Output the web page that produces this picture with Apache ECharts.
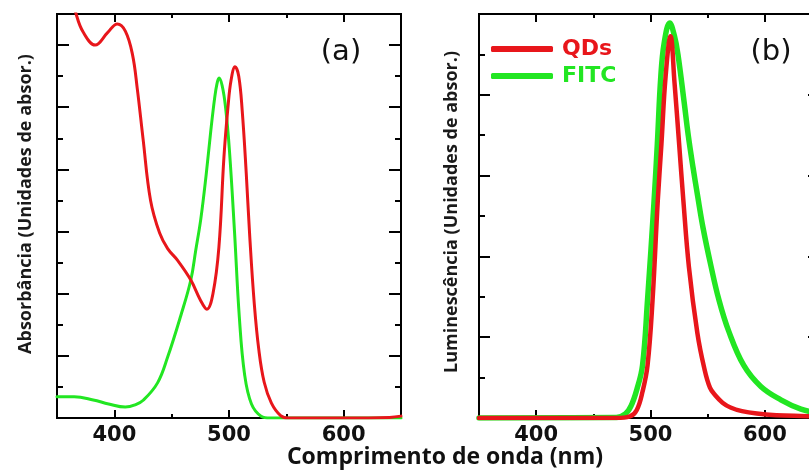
<!DOCTYPE html>
<html>
<head>
<meta charset="utf-8">
<script src="https://cdn.jsdelivr.net/npm/echarts@6/dist/echarts.min.js"></script>
<style>
  html, body { margin: 0; padding: 0; background: #fff; }
  #chart { width: 809px; height: 476px; }
</style>
</head>
<body>
<div id="chart"></div>
<script>
// Wavelength range shared by both panels (nm)
const X_MIN = 350, X_MAX = 650;
const xMajorTicks = [400, 500, 600];
const xMinorTicks = [450, 550];

// Panel (a): absorbance, arbitrary units
const Y_MAX_A = 13;
const yMajorTicksA = [0, 2, 4, 6, 8, 10, 12];
const yMinorTicksA = [1, 3, 5, 7, 9, 11];

// Panel (b): luminescence, arbitrary units
const Y_MAX_B = 10;
const yMajorTicksB = [0, 2, 4, 6, 8];
const yMinorTicksB = [1, 3, 5, 7, 9];

const seriesNames = ['QDs', 'FITC'];
const RED = '#e8161b', GREEN = '#22e622';

// (a) QDs absorbance
const absQDsX = [360, 366.7, 372.8, 383.3, 393.9, 402.6, 409.6, 415.8, 420, 425, 431.6, 439.5, 446.5, 455, 466.7, 475, 480.7, 486, 491.2, 495.6, 499.1, 501.8, 505.3, 508.5, 511.5, 515, 518, 522, 526, 530.7, 537, 545, 552, 600, 640, 650];
const absQDsY = [14.0, 13.0, 12.42, 12.0, 12.39, 12.68, 12.45, 11.7, 10.6, 9.0, 7.0, 5.95, 5.45, 5.08, 4.44, 3.8, 3.5, 4.0, 5.5, 8.4, 10.0, 10.87, 11.3, 11.0, 9.9, 7.9, 5.9, 3.7, 2.2, 1.15, 0.48, 0.08, 0.0, 0.0, 0.02, 0.06];

// (a) FITC absorbance
const absFITCX = [350, 365, 381.6, 395, 409.6, 418, 425.5, 437.7, 446.5, 458, 466.7, 471, 475.4, 480, 484, 487.5, 489.5, 491.3, 494, 497, 500.4, 504.8, 509, 513.6, 519.6, 528, 536, 650];
const absFITCY = [0.68, 0.68, 0.58, 0.45, 0.35, 0.42, 0.58, 1.13, 1.96, 3.3, 4.44, 5.4, 6.4, 7.8, 9.2, 10.3, 10.75, 10.94, 10.7, 10.0, 8.6, 6.0, 3.25, 1.4, 0.45, 0.06, 0.0, 0.0];

// (b) QDs luminescence
const lumQDsX = [350, 470, 482, 488, 493, 497.4, 501.8, 506.3, 509.6, 513.2, 517.5, 521, 525, 528.7, 533.6, 541, 546.8, 552, 557, 563, 570, 580, 593, 610, 631, 650];
const lumQDsY = [0, 0, 0.04, 0.2, 0.65, 1.3, 2.92, 5.35, 6.8, 8.45, 9.45, 8.3, 6.8, 5.4, 3.74, 2.1, 1.26, 0.75, 0.55, 0.38, 0.26, 0.17, 0.11, 0.07, 0.05, 0.04];

// (b) FITC luminescence
const lumFITCX = [350, 470, 478, 483, 488, 493, 497.4, 503, 506, 509, 512, 516.8, 521, 524, 529.5, 533, 537.2, 541.2, 546, 552.6, 559.6, 568.4, 581.6, 596.5, 614, 631.6, 650];
const lumFITCY = [0, 0.01, 0.1, 0.3, 0.7, 1.3, 2.92, 5.32, 6.8, 8.45, 9.29, 9.78, 9.45, 9.0, 7.8, 7.0, 6.2, 5.5, 4.7, 3.8, 2.95, 2.15, 1.3, 0.78, 0.45, 0.22, 0.1];

const zip = (xs, ys) => xs.map((x, i) => [x, ys[i]]);

const chart = echarts.init(document.getElementById('chart'), null, { renderer: 'canvas' });

const frameLine = { show: true, onZero: false, lineStyle: { color: '#000', width: 2 } };
const tickLine = { color: '#000', width: 2 };
const tickFont = { fontFamily: 'DejaVu Sans', fontWeight: 'bold', fontSize: 21, color: '#111' };

// Four x axes per panel: bottom/top, each with a long and a short tick set
function xAxesFor(grid) {
  const base = { type: 'value', gridIndex: grid, min: X_MIN, max: X_MAX, splitLine: { show: false }, axisLine: frameLine };
  const major = (pos, labels) => ({ ...base, position: pos,
    axisTick: { show: true, inside: true, length: 8, lineStyle: tickLine, customValues: xMajorTicks },
    axisLabel: labels ? { show: true, customValues: xMajorTicks, margin: 7, ...tickFont } : { show: false } });
  const minor = (pos) => ({ ...base, position: pos,
    axisTick: { show: true, inside: true, length: 4, lineStyle: tickLine, customValues: xMinorTicks },
    axisLabel: { show: false } });
  return [major('bottom', true), minor('bottom'), major('top', false), minor('top')];
}

function yAxesFor(grid, yMax, majors, minors, majorLen, minorLen, rightMajorLen) {
  const base = { type: 'value', gridIndex: grid, min: 0, max: yMax, splitLine: { show: false }, axisLine: frameLine, axisLabel: { show: false } };
  const mk = (pos, vals, len) => ({ ...base, position: pos,
    axisTick: { show: true, inside: true, length: len, lineStyle: tickLine, customValues: vals } });
  return [mk('left', majors, majorLen), mk('left', minors, minorLen), mk('right', majors, rightMajorLen), mk('right', minors, minorLen)];
}

const lineSeries = (name, color, width, grid, data) => ({
  name, type: 'line', xAxisIndex: grid * 4, yAxisIndex: grid * 4, data,
  showSymbol: false, smooth: 0.4, clip: true,
  lineStyle: { color, width, cap: 'round', join: 'round' }, itemStyle: { color },
  animation: false
});

const titleFont = { fontFamily: 'Open Sans', fontWeight: 'bold', fontSize: 18, fill: '#1a1a1a' };

chart.setOption({
  animation: false,
  grid: [
    { left: 57, top: 14, width: 344, height: 404, outerBoundsMode: 'none' },
    { left: 479, top: 14, width: 343, height: 404, outerBoundsMode: 'none' }
  ],
  xAxis: [...xAxesFor(0), ...xAxesFor(1)],
  yAxis: [...yAxesFor(0, Y_MAX_A, yMajorTicksA, yMinorTicksA, 12, 6, 12), ...yAxesFor(1, Y_MAX_B, yMajorTicksB, yMinorTicksB, 11, 6, 14)],
  legend: {
    show: true, orient: 'vertical', left: 486, top: 33,
    itemWidth: 62, itemHeight: 6, itemGap: 5, icon: 'roundRect',
    selectedMode: false,
    textStyle: { fontFamily: 'DejaVu Sans', fontWeight: 'bold', fontSize: 22, padding: [0, 0, 0, 4] },
    data: [
      { name: seriesNames[0], textStyle: { color: RED } },
      { name: seriesNames[1], textStyle: { color: GREEN } }
    ]
  },
  series: [
    lineSeries(seriesNames[1], GREEN, 3, 0, zip(absFITCX, absFITCY)),
    lineSeries(seriesNames[0], RED, 3, 0, zip(absQDsX, absQDsY)),
    lineSeries(seriesNames[1], GREEN, 5.5, 1, zip(lumFITCX, lumFITCY)),
    lineSeries(seriesNames[0], RED, 4.5, 1, zip(lumQDsX, lumQDsY))
  ],
  graphic: [
    { type: 'text', x: 26, y: 204, rotation: Math.PI / 2,
      style: { text: 'Absorbância (Unidades de absor.)', ...titleFont, align: 'center', verticalAlign: 'middle' } },
    { type: 'text', x: 452, y: 212, rotation: Math.PI / 2,
      style: { text: 'Luminescência (Unidades de absor.)', ...titleFont, align: 'center', verticalAlign: 'middle' } },
    { type: 'text', x: 445, y: 457,
      style: { text: 'Comprimento de onda (nm)', fontFamily: 'Open Sans', fontWeight: 'bold', fontSize: 23, fill: '#111', align: 'center', verticalAlign: 'middle' } },
    { type: 'text', x: 341, y: 52,
      style: { text: '(a)', fontFamily: 'DejaVu Sans', fontSize: 29, fill: '#111', align: 'center', verticalAlign: 'middle' } },
    { type: 'text', x: 771, y: 52,
      style: { text: '(b)', fontFamily: 'DejaVu Sans', fontSize: 29, fill: '#111', align: 'center', verticalAlign: 'middle' } }
  ]
});
</script>
</body>
</html>
